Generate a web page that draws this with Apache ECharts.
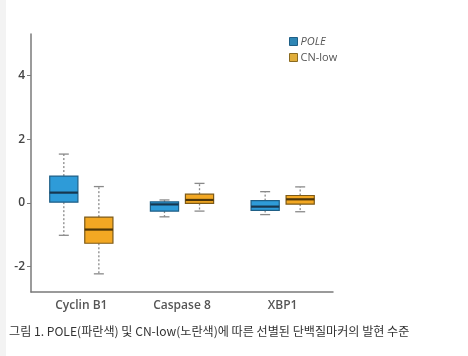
<!DOCTYPE html>
<html><head><meta charset="utf-8">
<script src="https://cdn.jsdelivr.net/npm/echarts@6/dist/echarts.min.js"></script>
<style>html,body{margin:0;padding:0;background:#fff}#c{width:468px;height:356px}</style>
</head><body><div id="c"></div>
<script>
const categories = ['Cyclin B1', 'Caspase 8', 'XBP1'];
// [lower whisker, Q1, median, Q3, upper whisker]
const poleValues = [
  [-1.02, 0.02, 0.32, 0.84, 1.53],
  [-0.44, -0.26, -0.05, 0.03, 0.09],
  [-0.37, -0.24, -0.12, 0.07, 0.35]
];
const cnLowValues = [
  [-2.23, -1.27, -0.84, -0.45, 0.51],
  [-0.26, -0.02, 0.09, 0.27, 0.61],
  [-0.28, -0.04, 0.11, 0.23, 0.50]
];
const yTicks = [-2, 0, 2, 4];
const caption = '그림 1. POLE(파란색) 및 CN-low(노란색)에 따른 선별된 단백질마커의 발현 수준';

const styles = {
  POLE: {fill: '#2e9bd8', border: '#1f5f86', median: '#17374f', offset: -0.174},
  'CN-low': {fill: '#f3a823', border: '#7d5a17', median: '#4d3508', offset: 0.174}
};

function makeRender(st) {
  return function (params, api) {
    const ci = api.value(0);
    const band = api.size([1, 0])[0];
    const cx = api.coord([ci, 0])[0] + st.offset * band;
    const w = band * 0.28;
    const y = k => api.coord([ci, api.value(k)])[1];
    const lo = y(1), q1 = y(2), md = y(3), q3 = y(4), hi = y(5);
    const cap = 10;
    const dash = {stroke: '#8a8a8a', lineWidth: 1.3, lineDash: [2, 2]};
    const capS = {stroke: '#8a8a8a', lineWidth: 1.3};
    return {type: 'group', children: [
      {type: 'line', shape: {x1: cx, y1: q3, x2: cx, y2: hi}, style: dash},
      {type: 'line', shape: {x1: cx, y1: q1, x2: cx, y2: lo}, style: dash},
      {type: 'line', shape: {x1: cx - cap / 2, y1: hi, x2: cx + cap / 2, y2: hi}, style: capS},
      {type: 'line', shape: {x1: cx - cap / 2, y1: lo, x2: cx + cap / 2, y2: lo}, style: capS},
      {type: 'rect', shape: {x: cx - w / 2, y: q3, width: w, height: q1 - q3},
        style: {fill: st.fill, stroke: st.border, lineWidth: 1.2}},
      {type: 'line', shape: {x1: cx - w / 2, y1: md, x2: cx + w / 2, y2: md},
        style: {stroke: st.median, lineWidth: 2.2}}
    ]};
  };
}

function toData(vals) {
  return vals.map((v, i) => [i].concat(v));
}

const chart = echarts.init(document.getElementById('c'));
chart.setOption({
  animation: false,
  grid: {left: 31, right: 135, top: 34, bottom: 64},
  legend: {
    orient: 'vertical', left: 284, top: 31, itemWidth: 8, itemHeight: 8, itemGap: 5,
    icon: 'rect',
    data: [
      {name: 'POLE', itemStyle: {color: '#2e86b5', borderColor: '#1f5f86', borderWidth: 1},
        textStyle: {fontStyle: 'italic'}},
      {name: 'CN-low', itemStyle: {color: '#e0ad3a', borderColor: '#8a6a20', borderWidth: 1}}
    ],
    textStyle: {color: '#555', fontSize: 11, fontFamily: 'Open Sans', padding: [0, 0, 0, -2]}
  },
  xAxis: {
    type: 'category', data: categories,
    axisLine: {onZero: false, lineStyle: {color: '#7a7a7a', width: 1.5}},
    axisTick: {alignWithLabel: true, length: 4, lineStyle: {color: '#7a7a7a'}},
    axisLabel: {color: '#555', fontSize: 12, fontFamily: 'Open Sans', fontWeight: 600, margin: 8}
  },
  yAxis: {
    type: 'value', min: -2.8, max: 5.3,
    splitLine: {show: false},
    axisLine: {show: true, lineStyle: {color: '#7a7a7a', width: 1.5}},
    axisTick: {show: true, length: 4, customValues: yTicks, lineStyle: {color: '#7a7a7a'}},
    axisLabel: {customValues: yTicks, color: '#444', fontSize: 12, fontFamily: 'Open Sans', fontWeight: 600, margin: 6,
      formatter: v => (v < 0 ? '-' + Math.abs(v) : String(v))}
  },
  series: [
    {name: 'POLE', type: 'custom', renderItem: makeRender(styles.POLE), data: toData(poleValues),
      itemStyle: {color: '#2e86b5'}, encode: {x: 0, y: [1, 2, 3, 4, 5]}},
    {name: 'CN-low', type: 'custom', renderItem: makeRender(styles['CN-low']), data: toData(cnLowValues),
      itemStyle: {color: '#e0ad3a'}, encode: {x: 0, y: [1, 2, 3, 4, 5]}}
  ],
  graphic: [
    {type: 'rect', left: 0, top: 0, shape: {width: 6, height: 356}, style: {fill: '#f3f3f3'}, silent: true},
    {type: 'text', left: 9, top: 325, style: {text: caption, fill: '#333', fontSize: 12.1,
      fontFamily: 'Noto Sans CJK KR'}}
  ]
});
</script></body></html>
